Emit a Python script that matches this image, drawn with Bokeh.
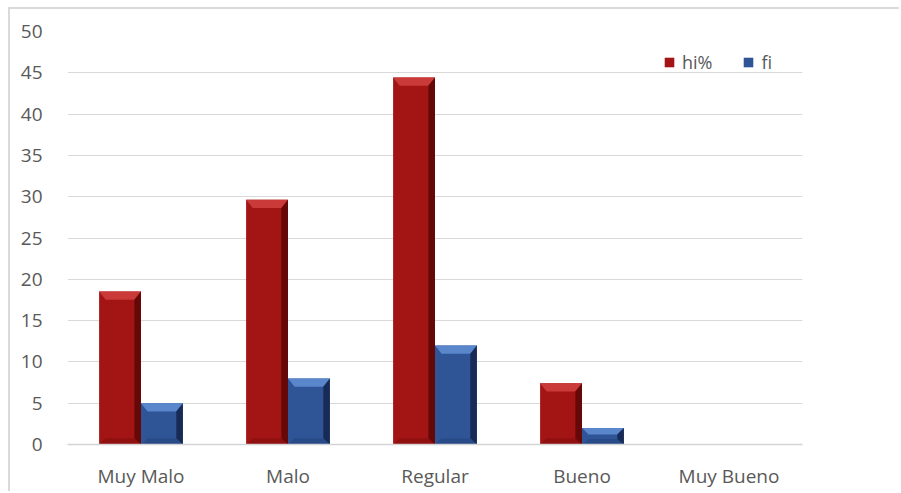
import numpy as np
from bokeh.plotting import figure
from bokeh.models import Range1d, FixedTicker, SingleIntervalTicker
from bokeh.embed import file_html
from bokeh.resources import INLINE

categories = ["Muy Malo", "Malo", "Regular", "Bueno", "Muy Bueno"]
hi_pct = [18.52, 29.63, 44.44, 7.41, 0.0]
fi = [5, 8, 12, 2, 0]
y_ticks = [0, 5, 10, 15, 20, 25, 30, 35, 40, 45, 50]

FONT = "Open Sans"
TXT = "#595959"

p = figure(width=891, height=484, output_backend="svg", toolbar_location=None,
           x_range=Range1d(-0.5, 4.5), y_range=Range1d(0, 50),
           min_border_left=57, min_border_right=99, min_border_top=22,
           min_border_bottom=49)
p.styles = {"margin-left": "8px", "margin-top": "7px",
            "border-left": "2px solid #dadada", "border-top": "2px solid #dadada"}
p.outline_line_color = None
p.background_fill_color = "white"
p.border_fill_color = "white"

x = np.arange(len(categories))
bw = 0.285
series = [
    ("hi%", hi_pct, -bw / 2, "#A31414", "#C93A38", "#5A0606", "#8E1010"),
    ("fi", fi, bw / 2, "#2F5597", "#5A86CC", "#13254A", "#284A86"),
]

for name, vals, off, main, light, dark, bot in series:
    vals = np.array(vals, dtype=float)
    p.vbar(x=x + off, top=vals, bottom=0, width=bw, fill_color=main,
           line_color=None, legend_label=name)
    tx, ty, rx, ry, bx, by = [], [], [], [], [], []
    b = 0.045
    for c, v in zip(x + off, vals):
        if v <= 0:
            continue
        h = min(1.0, v / 2.5)
        hb = min(0.75, v / 3.0)
        l, r = c - bw / 2, c + bw / 2
        tx.append([l, r, r - b, l + b]); ty.append([v, v, v - h, v - h])
        rx.append([r, r, r - b, r - b]); ry.append([v, 0, hb, v - h])
        bx.append([l, r, r - b, l + b]); by.append([0, 0, hb, hb])
    p.patches(bx, by, fill_color=bot, line_color=None, fill_alpha=0.9)
    p.patches(tx, ty, fill_color=light, line_color=None)
    p.patches(rx, ry, fill_color=dark, line_color=None, fill_alpha=0.85)

# axes
p.yaxis.ticker = FixedTicker(ticks=y_ticks)
p.yaxis.axis_line_color = None
p.yaxis.major_tick_line_color = None
p.yaxis.minor_tick_line_color = None
p.yaxis.major_label_standoff = 19
p.yaxis.major_label_text_font = FONT
p.yaxis.major_label_text_font_size = "19px"
p.yaxis.major_label_text_color = TXT

p.xaxis.ticker = FixedTicker(ticks=list(range(len(categories))))
p.xaxis.major_label_overrides = {i: c for i, c in enumerate(categories)}
p.xaxis.axis_line_color = "#d4d4d4"
p.xaxis.axis_line_width = 1.5
p.xaxis.major_tick_line_color = None
p.xaxis.minor_tick_line_color = None
p.xaxis.major_label_standoff = 12
p.xaxis.major_label_text_font = FONT
p.xaxis.major_label_text_font_size = "19px"
p.xaxis.major_label_text_color = TXT

p.xgrid.grid_line_color = None
p.ygrid.ticker = FixedTicker(ticks=y_ticks)
p.ygrid.grid_line_color = "#d9d9d9"
p.ygrid.grid_line_width = 1

lg = p.legend[0]
lg.orientation = "horizontal"
lg.location = (596, 370)
lg.padding = 0
lg.margin = 0
lg.spacing = 30
lg.border_line_color = None
lg.background_fill_alpha = 0
lg.glyph_width = 12
lg.glyph_height = 12
lg.label_standoff = 7
lg.label_height = 20
lg.label_text_font = FONT
lg.label_text_font_size = "18px"
lg.label_text_color = TXT

open("out.html", "w").write(file_html(p, INLINE))
